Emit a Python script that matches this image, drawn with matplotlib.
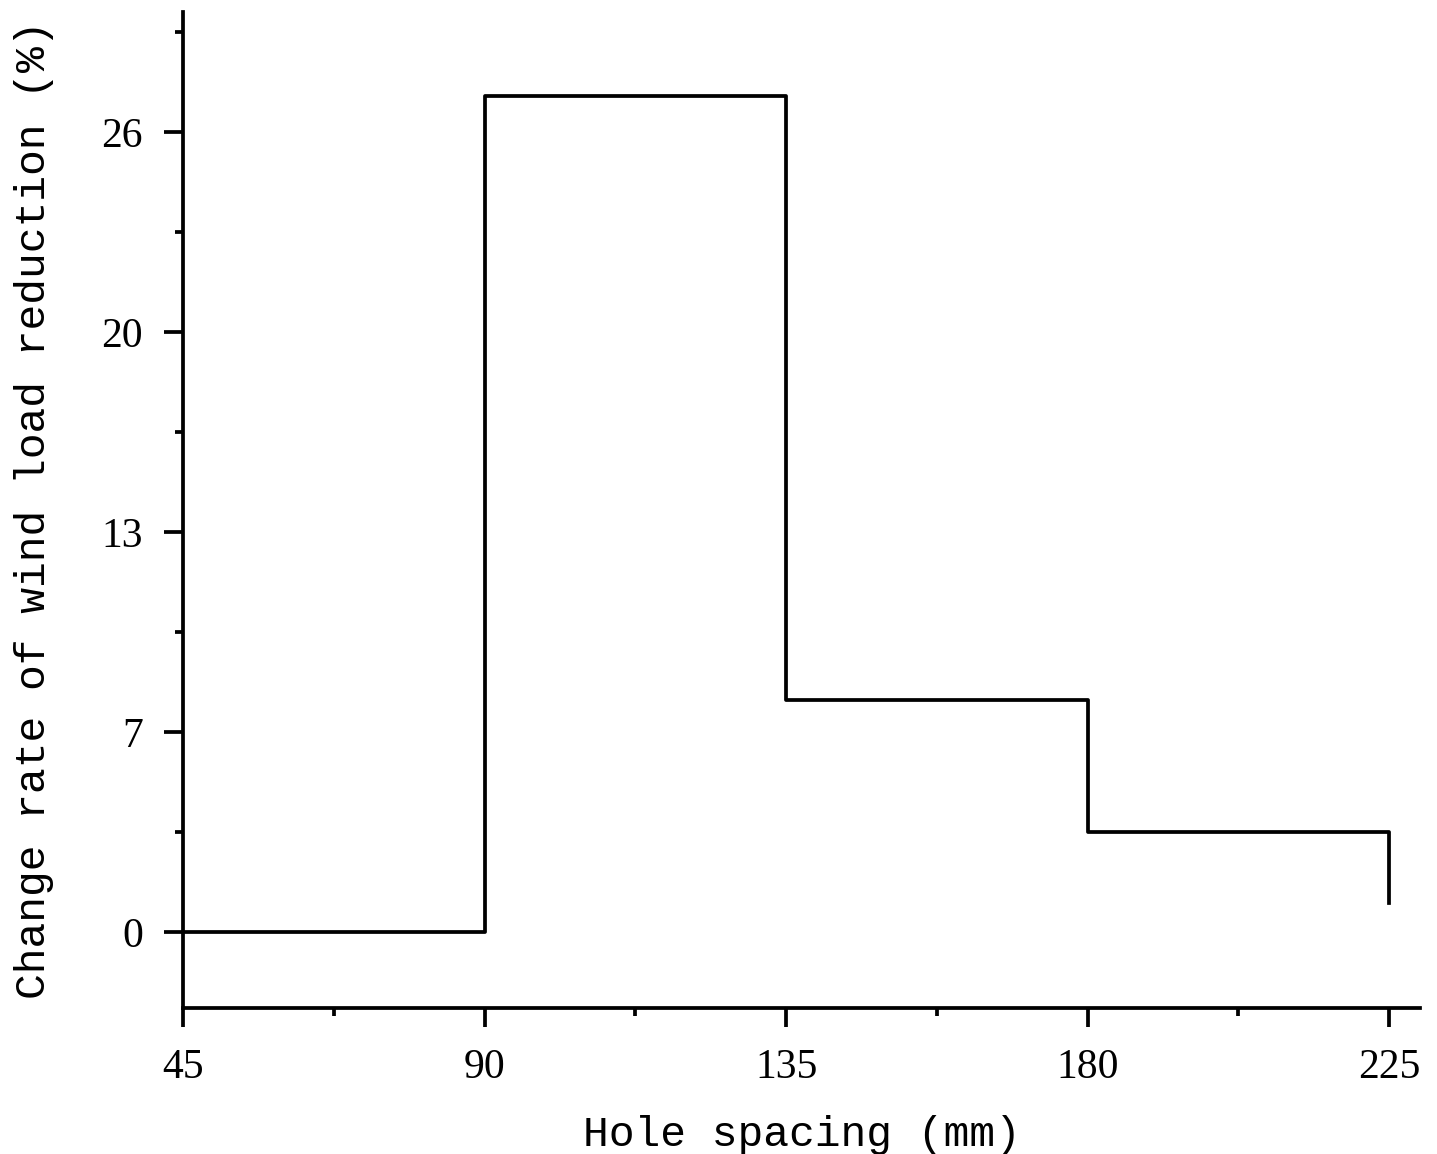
import numpy as np
import matplotlib.pyplot as plt
from matplotlib.ticker import MultipleLocator, FixedLocator

# hole spacing (mm) and change rate of wind load reduction (%)
spacing = [45, 90, 135, 180, 225]
change_rate = [0.0, 27.17, 7.54, 3.25, 0.94]

y_ticks = [0, 6.5, 13, 19.5, 26]
y_tick_labels = ['0', '7', '13', '20', '26']
x_ticks = [45, 90, 135, 180, 225]

fig = plt.figure(figsize=(14.37, 11.54), dpi=100)
ax = fig.add_axes([0.1274, 0.1265, 0.8608, 0.8631])

ax.step(spacing, change_rate, where='post', color='black', lw=2.7)

ax.set_xlim(45, 229.6)
ax.set_ylim(-2.47, 29.9)

ax.xaxis.set_major_locator(FixedLocator(x_ticks))
ax.xaxis.set_minor_locator(MultipleLocator(22.5))
ax.yaxis.set_major_locator(FixedLocator(y_ticks))
ax.yaxis.set_minor_locator(MultipleLocator(3.25))
ax.set_yticklabels(y_tick_labels)

for side in ['top', 'right']:
    ax.spines[side].set_visible(False)
for side in ['left', 'bottom']:
    ax.spines[side].set_linewidth(2.7)

ax.tick_params(which='major', direction='out', length=14, width=2.7, pad=15,
               labelsize=30)
ax.tick_params(which='minor', direction='out', length=6, width=2.7)
for lbl in ax.get_xticklabels() + ax.get_yticklabels():
    lbl.set_family('Liberation Serif')

ax.set_xlabel('Hole spacing (mm)', family='Liberation Mono', fontsize=31,
              labelpad=20)
ax.set_ylabel('Change rate of wind load reduction (%)', family='Liberation Mono',
              fontsize=31, labelpad=34)

fig.savefig('out.png', dpi=100)
